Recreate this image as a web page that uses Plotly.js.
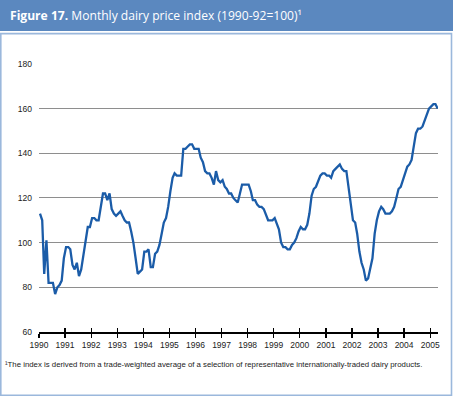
<!DOCTYPE html>
<html>
<head>
<meta charset="utf-8">
<script src="https://cdn.plot.ly/plotly-3.0.1.min.js"></script>
<style>
html,body{margin:0;padding:0;background:#fff;}
#chart{width:453px;height:396px;}
</style>
</head>
<body>
<div id="chart"></div>
<script>
// ---- data ----
const startYear = 1990;
const tickYears = ["1990","1991","1992","1993","1994","1995","1996","1997","1998","1999","2000","2001","2002","2003","2004","2005"];
const yTicks = [60, 80, 100, 120, 140, 160, 180];
// monthly dairy price index, Jan 1990 - Apr 2005
const dairyIndex = [
  113,110,86,101,82,82,82,77,80,81,83,93,            // 1990
  98,98,97,90,88,91,85,88,95,101,107,107,            // 1991
  111,111,110,110,116,122,122,119,122,115,113,112,   // 1992
  113,114,112,110,109,109,105,100,93,86,87,88,       // 1993
  96,96,97,89,89,95,96,99,104,109,111,116,           // 1994
  123,129,131,130,130,130,142,142,143,144,144,142,   // 1995
  142,142,138,136,132,131,131,129,126,132,128,127,   // 1996
  128,125,124,122,122,120,119,118,122,126,126,126,   // 1997
  126,123,119,119,117,116,116,115,112,110,110,110,   // 1998
  111,108,106,100,98,98,97,97,99,100,102,105,        // 1999
  107,106,106,108,113,121,124,125,128,130,131,131,   // 2000
  130,130,129,132,133,134,135,133,132,132,124,117,   // 2001
  110,109,104,96,91,88,83,84,88,93,104,110,          // 2002
  114,116,115,113,113,113,114,116,120,124,125,128,   // 2003
  131,134,135,137,143,149,151,151,152,155,158,160,   // 2004
  161,162,162,160                                    // 2005
];
const titleBold = "Figure 17.";
const titleRest = " Monthly dairy price index (1990-92=100)\u00B9";
const footnote = "\u00B9The index is derived from a trade-weighted average of a selection of representative internationally-traded dairy products.";

// ---- build ----
const dates = dairyIndex.map((v, k) => {
  const y = startYear + Math.floor(k / 12);
  const m = (k % 12) + 1;
  return y + "-" + (m < 10 ? "0" + m : m) + "-15";
});
const tickVals = tickYears.map(y => y + "-01-01");

const W = 453, H = 396;
const M = {l: 39, r: 15, t: 63, b: 64};
const PW = W - M.l - M.r, PH = H - M.t - M.b;
const px = x => (x - M.l) / PW;
const py = y => (H - M.b - y) / PH;

const lineTrace = {
  x: dates, y: dairyIndex, type: "scatter", mode: "lines",
  line: {color: "#1b5ca8", width: 2.3},
  hoverinfo: "x+y", showlegend: false
};
const ghost = {
  x: [dates[0]], y: [dairyIndex[0]], xaxis: "x2", yaxis: "y",
  type: "scatter", mode: "markers", marker: {opacity: 0}, showlegend: false, hoverinfo: "skip"
};

const axisFont = {family: "Liberation Sans, Arial, sans-serif", size: 8.5, color: "#222"};

const layout = {
  width: W, height: H,
  margin: M,
  paper_bgcolor: "#ffffff", plot_bgcolor: "#ffffff",
  showlegend: false,
  xaxis: {
    type: "date", range: ["1990-01-01", "2005-04-20"],
    tickmode: "array", tickvals: tickVals, ticktext: tickYears,
    ticks: "outside", ticklen: 4, tickwidth: 1.2, tickcolor: "#000",
    showline: true, linecolor: "#000", linewidth: 1.6,
    showgrid: false, zeroline: false, tickfont: axisFont,
    fixedrange: true
  },
  xaxis2: {
    type: "date", range: ["1990-01-01", "2005-04-20"], overlaying: "x", anchor: "y", side: "bottom",
    tickmode: "array", tickvals: tickVals, ticktext: tickYears,
    ticks: "inside", ticklen: 4, tickwidth: 1.2, tickcolor: "#000",
    showticklabels: false, showgrid: false, zeroline: false, showline: false
  },
  yaxis: {
    range: [60, 180.4],
    tickmode: "array", tickvals: yTicks,
    ticks: "", ticklabelstandoff: 6,
    showgrid: true, gridcolor: "#8e8e8e", gridwidth: 1,
    zeroline: false, showline: false, tickfont: axisFont,
    fixedrange: true
  },
  shapes: [
    {type: "rect", xref: "paper", yref: "paper", x0: px(0), x1: px(W), y0: py(31), y1: py(0),
     fillcolor: "#5b88bf", line: {width: 0}, layer: "below"},
    {type: "rect", xref: "paper", yref: "paper", x0: px(0.8), x1: px(451.5), y0: py(395.2), y1: py(33.6),
     fillcolor: "rgba(0,0,0,0)", line: {color: "#9bb8dc", width: 1.6}, layer: "below"}
  ],
  annotations: [
    {xref: "paper", yref: "paper", x: px(8), y: py(15.5), xanchor: "left", yanchor: "middle",
     showarrow: false, text: "<b>" + titleBold + "</b>" + titleRest,
     font: {family: "Open Sans, sans-serif", size: 12.1, color: "#ffffff"}},
    {xref: "paper", yref: "paper", x: px(3), y: py(364), xanchor: "left", yanchor: "middle",
     showarrow: false, text: footnote,
     font: {family: "Liberation Sans, Arial, sans-serif", size: 7.8, color: "#222"}}
  ]
};

Plotly.newPlot("chart", [lineTrace, ghost], layout, {displayModeBar: false, staticPlot: true});
</script>
</body>
</html>
